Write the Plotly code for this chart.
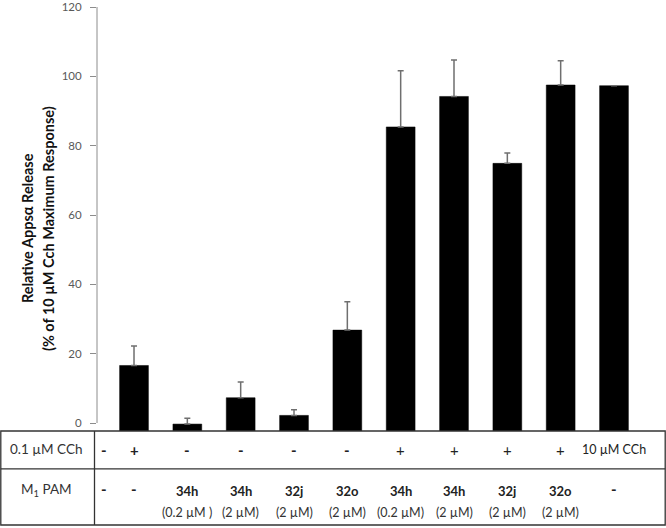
import plotly.graph_objects as go

# ---- data ----
categories = ["CCh 0.1", "34h 0.2", "34h 2", "32j 2", "32o 2",
              "CCh+34h 0.2", "CCh+34h 2", "CCh+32j 2", "CCh+32o 2", "CCh 10"]
values = [16.6, -0.3, 7.3, 2.2, 26.8, 85.4, 94.2, 74.9, 97.5, 97.3]
errors = [5.6, 1.7, 4.5, 1.6, 8.2, 16.2, 10.5, 3.0, 7.0, None]

# table rows (first entry = vehicle column without a bar)
row_cch = ["-", "+", "-", "-", "-", "-", "+", "+", "+", "+", "10 µM CCh"]
row_cch_bold = [True, True, True, True, True, True, False, False, False, False, False]
row_pam = ["-", "-", "34h", "34h", "32j", "32o", "34h", "34h", "32j", "32o", "-"]
row_conc = ["", "", "(0.2 µM )", "(2 µM)", "(2 µM)", "(2 µM)",
            "(0.2 µM)", "(2 µM)", "(2 µM)", "(2 µM)", ""]
y_ticks = [0, 20, 40, 60, 80, 100, 120]

BASE = -2.3
W, H = 666, 528
L, R, T, B = 97, 0, 4.7, 97
pw, ph = W - L - R, H - T - B

def px(x):
    return (x - L) / pw

def py(y):
    return (H - B - y) / ph

FONT = "Lato"
GRAY = "#595959"

fig = go.Figure()
fig.add_trace(go.Bar(
    x=categories,
    y=[v - BASE for v in values],
    base=BASE,
    width=0.54,
    marker=dict(color="black", line=dict(color="black", width=0.5)),
    error_y=dict(type="data", symmetric=False,
                 array=errors, arrayminus=[0] * len(errors),
                 color="#6f6f6f", thickness=1.5, width=3),
    showlegend=False,
))

annotations = []

def ann(**kw):
    d = dict(showarrow=False, xanchor="center", yanchor="middle")
    d.update(kw)
    annotations.append(d)

# y-axis titles
ann(text="<b>Relative Appsα Release</b>", textangle=-90,
    xref="paper", yref="paper", x=px(27), y=py(227),
    font=dict(size=14.5, color="#111", family=FONT))
ann(text="<b>(% of 10 µM Cch Maximum Response)</b>", textangle=-90,
    xref="paper", yref="paper", x=px(48), y=py(228),
    font=dict(size=14.5, color="#111", family=FONT))

# table row headers
ann(text="0.1 µM CCh", xref="paper", yref="paper", x=px(46), y=py(449),
    font=dict(size=13.5, color="#333", family=FONT))
ann(text="M<sub>1</sub> PAM", xref="paper", yref="paper", x=px(46), y=py(490),
    font=dict(size=13.5, color="#333", family=FONT))

def col_ref(i):
    # i = table column index; column 0 has no bar
    if i == 0:
        return dict(xref="paper", x=px(104))
    return dict(xref="x", x=categories[i - 1])

for i in range(len(row_cch)):
    t = row_cch[i]
    if t in ("-", "+"):
        txt = f"<b>{t}</b>" if row_cch_bold[i] else t
        fs = 15
    else:
        txt = t
        fs = 12.5
    ann(text=txt, yref="paper", y=py(450),
        font=dict(size=fs, color="#222", family=FONT), **col_ref(i))
    is_dash = row_pam[i] == "-"
    ann(text=f"<b>{row_pam[i]}</b>", yref="paper", y=py(489 if is_dash else 491),
        font=dict(size=15 if is_dash else 13, color="#222", family=FONT), **col_ref(i))
    if row_conc[i]:
        ann(text=row_conc[i], yref="paper", y=py(513),
            font=dict(size=12.5, color="#333", family=FONT), **col_ref(i))

shapes = []
lc = "#333"
# table border
shapes.append(dict(type="rect", xref="paper", yref="paper",
                   x0=px(0.8), x1=px(665.2), y0=py(431), y1=py(525.5),
                   line=dict(color=lc, width=1.3), layer="above"))
shapes.append(dict(type="line", xref="paper", yref="paper",
                   x0=px(0.8), x1=px(665.2), y0=py(469), y1=py(469),
                   line=dict(color=lc, width=1.3)))
shapes.append(dict(type="line", xref="paper", yref="paper",
                   x0=px(94.5), x1=px(94.5), y0=py(431), y1=py(525.5),
                   line=dict(color=lc, width=1.3)))
# y-axis line (0..120)
shapes.append(dict(type="line", xref="paper", yref="y",
                   x0=0, x1=0, y0=0, y1=120,
                   line=dict(color="#8c8c8c", width=1)))

fig.update_layout(
    width=W, height=H,
    margin=dict(l=L, r=R, t=T, b=B, pad=0),
    paper_bgcolor="white", plot_bgcolor="white",
    xaxis=dict(type="category", range=[-0.694, 9.975], showticklabels=False,
               showgrid=False, zeroline=False, showline=False, ticks=""),
    yaxis=dict(range=[BASE, 120], tickvals=y_ticks, ticks="outside", ticklen=6,
               tickcolor="#8c8c8c", showgrid=False, zeroline=False, showline=False,
               ticklabelstandoff=6, ticklabeloverflow="allow",
               tickfont=dict(size=11.5, color=GRAY, family=FONT)),
    annotations=annotations,
    shapes=shapes,
    font=dict(family=FONT),
)

fig.write_html("out.html", config={"displayModeBar": False},
               post_script="document.body.style.margin='0px';document.body.style.overflow='hidden';")
